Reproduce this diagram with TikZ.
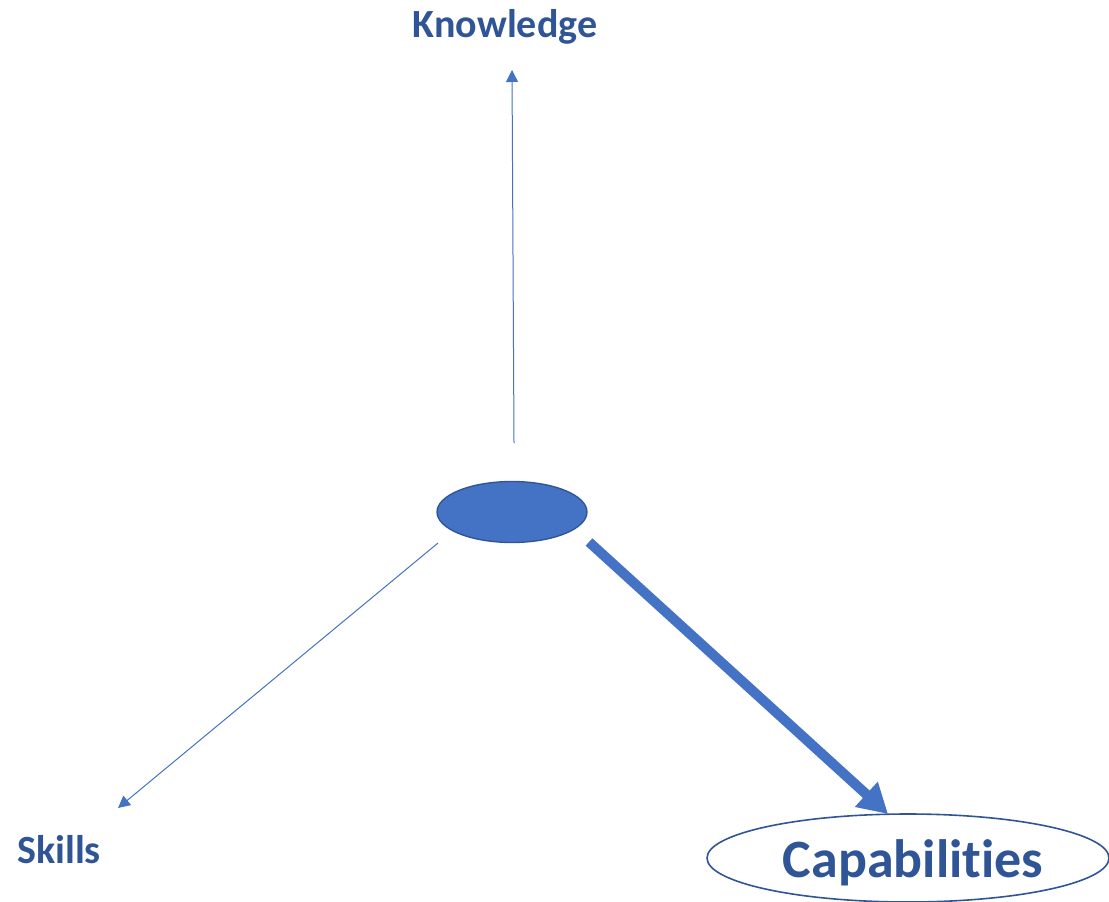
\documentclass[tikz,border=0pt]{standalone}
\usepackage{fontspec}
\setmainfont{Carlito}[Ligatures=NoCommon]
\usetikzlibrary{calc}
\usetikzlibrary{shapes.geometric, arrows.meta}
\definecolor{lineblue}{HTML}{4472C4}
\definecolor{textblue}{HTML}{2F5597}
\tikzstyle{term} = [text=textblue,
font=\bfseries\fontsize{30}{36}\selectfont,
inner sep=0pt]
\tikzstyle{hubnode} = [ellipse,
minimum width=112.5pt,
minimum height=45.75pt,
inner sep=0pt,
line width=1pt,
draw=textblue,
fill=lineblue]
\tikzstyle{capnode} = [ellipse,
minimum width=301.5pt,
minimum height=66pt,
inner sep=0pt,
line width=1.2pt,
draw=textblue,
text=textblue,
font=\bfseries\fontsize{40.5}{48}\selectfont]
\tikzstyle{thinarrow} = [lineblue, line width=0.75pt, -{Triangle[length=9pt, width=9pt]}]
\tikzstyle{thickarrow} = [lineblue, line width=7.5pt, -{Triangle[length=22pt, width=24pt]}]

\begin{document}
\begin{tikzpicture}[x=0.75pt, y=-0.75pt]
    \useasboundingbox (0,0) rectangle (1109,902);

    \node (hub) [hubnode] at (512,512) {};
    \node (know) [term, anchor=base] at (505,38) {Knowledge};
    \node (skills) [term, anchor=base] at (59,863) {Skills};
    \node (cap) [capnode] at (908,858) {};
    \node (captext) [term, font=\bfseries\fontsize{40.5}{48}\selectfont, anchor=base] at (913,877) {Capabilities};

    % arrow ends
    \coordinate (k0) at (514,443);
    \coordinate (k1) at (512,70);
    \coordinate (s0) at (438,543);
    \coordinate (s1) at (118,808);
    \coordinate (c0) at (589,542);
    \coordinate (c1) at (888,814);

    \draw [thinarrow] (k0) -- (k1);
    \draw [thinarrow] (s0) -- (s1);
    \draw [thickarrow] (c0) -- (c1);
  \end{tikzpicture}
\end{document}
